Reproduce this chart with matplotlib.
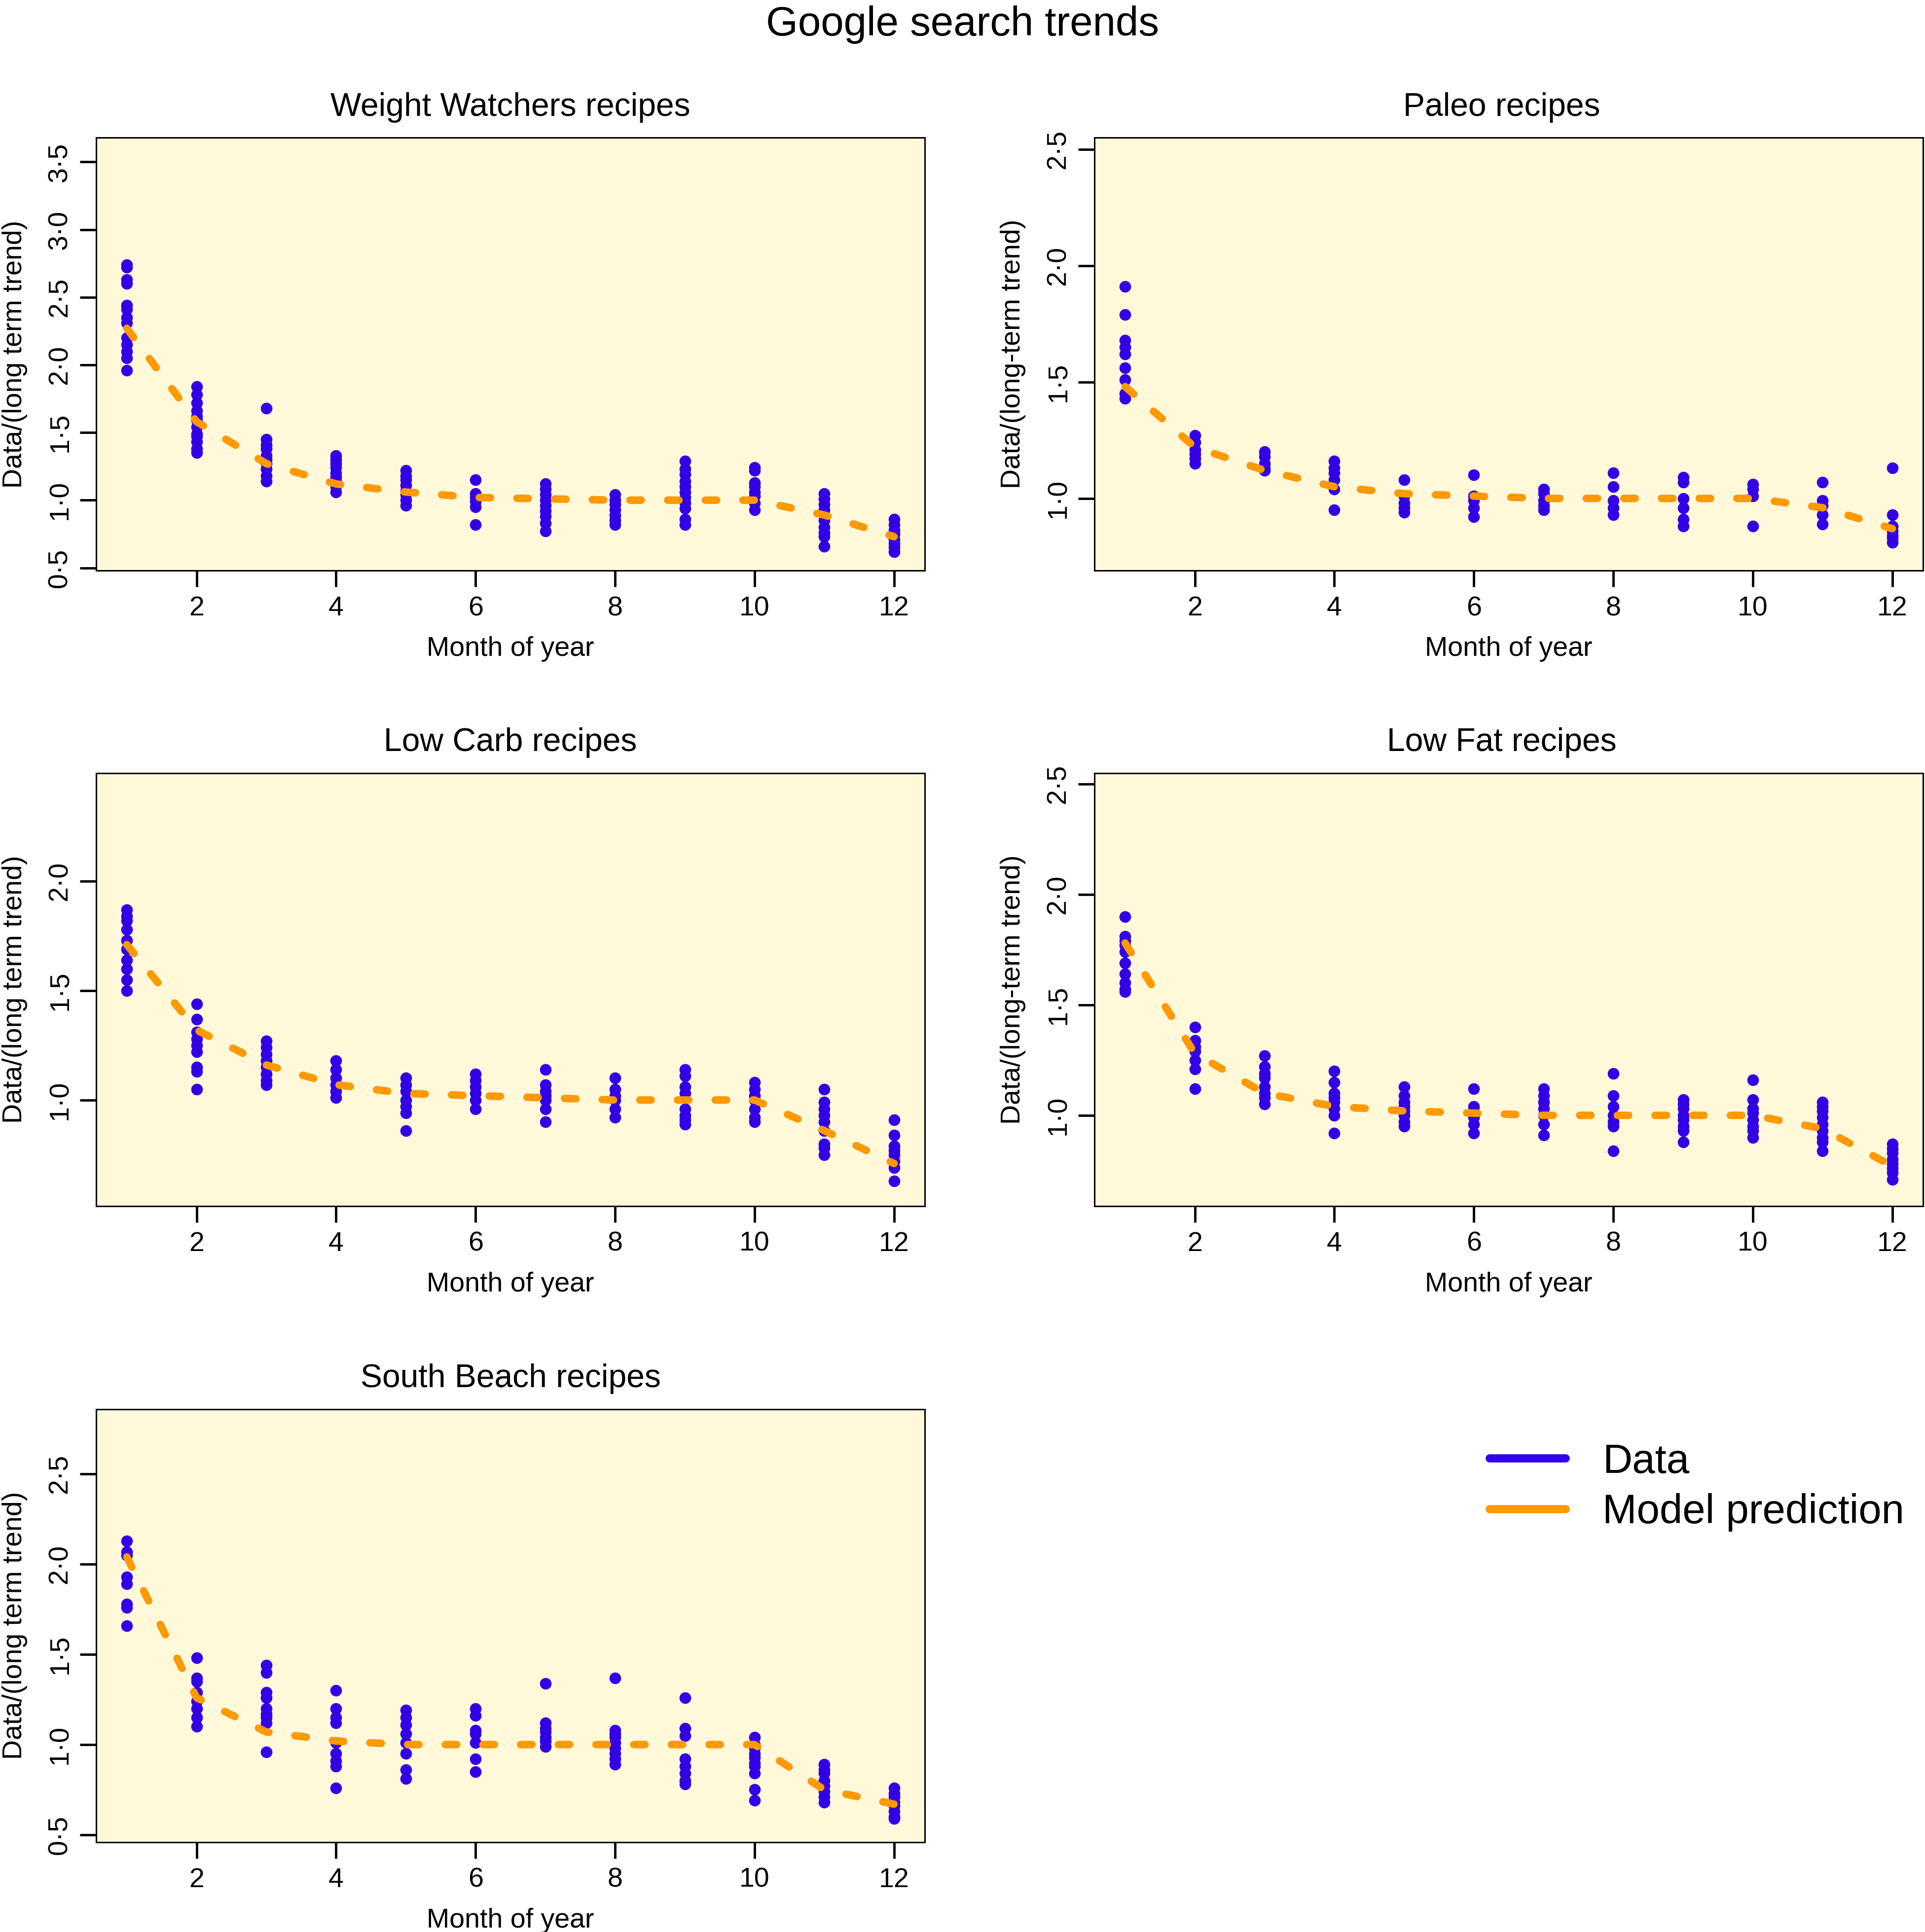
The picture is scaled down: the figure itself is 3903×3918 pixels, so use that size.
import matplotlib
matplotlib.use("Agg")
import matplotlib.pyplot as plt
from matplotlib.lines import Line2D
import numpy as np

plt.rcParams['font.family'] = ['Liberation Sans', 'DejaVu Sans']

months = list(range(1, 13))

# Weight Watchers: observed values per month (one list per month)
ww_data = [
    [2.74, 2.72, 2.63, 2.60, 2.44, 2.41, 2.35, 2.31, 2.20, 2.15, 2.10, 2.05, 1.96],
    [1.84, 1.78, 1.72, 1.66, 1.62, 1.59, 1.54, 1.49, 1.47, 1.43, 1.38, 1.35],
    [1.68, 1.45, 1.41, 1.38, 1.33, 1.30, 1.27, 1.23, 1.18, 1.14],
    [1.33, 1.30, 1.27, 1.24, 1.20, 1.17, 1.14, 1.10, 1.06],
    [1.22, 1.18, 1.15, 1.11, 1.07, 1.04, 1.00, 0.96],
    [1.15, 1.05, 1.02, 0.99, 0.95, 0.82],
    [1.12, 1.08, 1.04, 1.00, 0.96, 0.92, 0.88, 0.83, 0.77],
    [1.04, 1.00, 0.97, 0.93, 0.89, 0.85, 0.82],
    [1.29, 1.23, 1.19, 1.14, 1.10, 1.06, 1.02, 0.98, 0.94, 0.86, 0.82],
    [1.24, 1.22, 1.13, 1.10, 1.06, 1.03, 0.98, 0.93],
    [1.05, 1.01, 0.97, 0.93, 0.89, 0.85, 0.80, 0.76, 0.73, 0.66],
    [0.86, 0.82, 0.78, 0.75, 0.71, 0.68, 0.65, 0.62],
]
ww_model = [2.27, 1.58, 1.27, 1.12, 1.06, 1.02, 1.01, 1.00, 1.00, 1.00, 0.89, 0.73]

paleo_data = [
    [1.91, 1.79, 1.68, 1.65, 1.62, 1.56, 1.51, 1.45, 1.43],
    [1.27, 1.24, 1.21, 1.19, 1.17, 1.15],
    [1.20, 1.18, 1.15, 1.13, 1.12],
    [1.16, 1.13, 1.11, 1.08, 1.04, 0.95],
    [1.08, 1.01, 0.98, 0.96, 0.94],
    [1.10, 1.01, 0.99, 0.96, 0.92],
    [1.04, 1.02, 0.99, 0.97, 0.95],
    [1.11, 1.05, 0.99, 0.96, 0.93],
    [1.09, 1.07, 1.00, 0.96, 0.91, 0.88],
    [1.06, 1.04, 1.01, 0.88],
    [1.07, 0.99, 0.97, 0.93, 0.89],
    [1.13, 0.93, 0.88, 0.86, 0.84, 0.83, 0.81],
]
paleo_model = [1.48, 1.22, 1.12, 1.05, 1.02, 1.01, 1.00, 1.00, 1.00, 1.00, 0.96, 0.87]

lowcarb_data = [
    [1.87, 1.84, 1.82, 1.78, 1.73, 1.69, 1.64, 1.60, 1.55, 1.50],
    [1.44, 1.37, 1.31, 1.28, 1.25, 1.22, 1.15, 1.13, 1.05],
    [1.27, 1.24, 1.21, 1.18, 1.15, 1.12, 1.09, 1.07],
    [1.18, 1.14, 1.10, 1.07, 1.04, 1.01],
    [1.10, 1.07, 1.04, 1.00, 0.97, 0.94, 0.86],
    [1.12, 1.09, 1.06, 1.03, 1.00, 0.96],
    [1.14, 1.07, 1.04, 1.02, 1.00, 0.96, 0.90],
    [1.10, 1.05, 1.02, 1.00, 0.96, 0.92],
    [1.14, 1.11, 1.06, 1.03, 0.96, 0.93, 0.91, 0.89],
    [1.08, 1.05, 1.02, 1.00, 0.96, 0.92, 0.90],
    [1.05, 0.99, 0.96, 0.93, 0.90, 0.86, 0.80, 0.78, 0.75],
    [0.91, 0.84, 0.79, 0.77, 0.75, 0.72, 0.69, 0.63],
]
lowcarb_model = [1.71, 1.32, 1.16, 1.07, 1.03, 1.02, 1.01, 1.00, 1.00, 1.00, 0.86, 0.71]

lowfat_data = [
    [1.90, 1.81, 1.79, 1.77, 1.74, 1.69, 1.64, 1.60, 1.57, 1.56],
    [1.40, 1.34, 1.31, 1.29, 1.25, 1.21, 1.12],
    [1.27, 1.22, 1.19, 1.17, 1.13, 1.10, 1.08, 1.05],
    [1.20, 1.15, 1.10, 1.08, 1.06, 1.03, 1.00, 0.92],
    [1.13, 1.09, 1.06, 1.04, 1.02, 1.00, 0.97, 0.95],
    [1.12, 1.04, 1.02, 0.99, 0.96, 0.92],
    [1.12, 1.09, 1.06, 1.03, 1.00, 0.96, 0.91],
    [1.19, 1.09, 1.04, 1.00, 0.97, 0.95, 0.84],
    [1.07, 1.05, 1.03, 1.00, 0.98, 0.95, 0.93, 0.88],
    [1.16, 1.07, 1.03, 1.01, 0.98, 0.95, 0.93, 0.90],
    [1.06, 1.04, 1.02, 0.99, 0.96, 0.93, 0.90, 0.88, 0.84],
    [0.87, 0.85, 0.83, 0.80, 0.78, 0.76, 0.74, 0.71],
]
lowfat_model = [1.78, 1.28, 1.10, 1.04, 1.02, 1.01, 1.00, 1.00, 1.00, 1.00, 0.94, 0.77]

southbeach_data = [
    [2.13, 2.07, 2.05, 1.93, 1.89, 1.78, 1.76, 1.66],
    [1.48, 1.37, 1.35, 1.29, 1.24, 1.20, 1.15, 1.10],
    [1.44, 1.40, 1.29, 1.26, 1.20, 1.17, 1.15, 1.12, 0.96],
    [1.30, 1.20, 1.15, 1.12, 1.01, 0.95, 0.91, 0.88, 0.76],
    [1.19, 1.15, 1.11, 1.06, 1.01, 0.95, 0.86, 0.81],
    [1.20, 1.16, 1.08, 1.06, 1.01, 0.92, 0.85],
    [1.34, 1.12, 1.09, 1.07, 1.04, 1.02, 0.99],
    [1.37, 1.08, 1.06, 1.04, 1.01, 0.98, 0.95, 0.92, 0.89],
    [1.26, 1.09, 1.05, 0.92, 0.88, 0.84, 0.80, 0.78],
    [1.04, 1.00, 0.98, 0.95, 0.93, 0.90, 0.88, 0.84, 0.75, 0.69],
    [0.89, 0.86, 0.84, 0.80, 0.77, 0.74, 0.71, 0.68],
    [0.76, 0.73, 0.71, 0.68, 0.66, 0.63, 0.60, 0.59],
]
southbeach_model = [2.04, 1.26, 1.07, 1.02, 1.00, 1.00, 1.00, 1.00, 1.00, 1.00, 0.75, 0.67]

titles = ["Weight Watchers recipes", "Paleo recipes", "Low Carb recipes",
          "Low Fat recipes", "South Beach recipes"]
ylabels = ["Data/(long term trend)", "Data/(long-term trend)", "Data/(long term trend)",
           "Data/(long-term trend)", "Data/(long term trend)"]
ylims = [(0.48, 3.68), (0.69, 2.55), (0.516, 2.495), (0.59, 2.55), (0.46, 2.86)]
all_data = [ww_data, paleo_data, lowcarb_data, lowfat_data, southbeach_data]
all_model = [ww_model, paleo_model, lowcarb_model, lowfat_model, southbeach_model]

BLUE = '#3300E6'
ORANGE = '#FF9900'
BG = '#FFF9DA'

W, H = 3903, 3918
fig = plt.figure(figsize=(W / 100, H / 100), dpi=100)

col_left = [195 / W, 2219 / W]
ax_w = 1680 / W
row_bottom = [1 - 1157 / H, 1 - 2445.5 / H, 1 - 3735.5 / H]
ax_h = 878 / H

for i in range(5):
    r, c = divmod(i, 2)
    ax = fig.add_axes([col_left[c], row_bottom[r], ax_w, ax_h])
    ax.set_facecolor(BG)
    for m, vals in zip(months, all_data[i]):
        ax.plot([m] * len(vals), vals, 'o', color=BLUE, ms=17, mec='none', zorder=2)
    ax.plot(months, all_model[i], color=ORANGE, lw=11, dashes=(1.5, 3.5),
            dash_capstyle='round', solid_capstyle='round', zorder=3)
    ax.set_xlim(0.56, 12.44)
    ax.set_ylim(*ylims[i])
    ax.set_xticks([2, 4, 6, 8, 10, 12])
    lo, hi = ylims[i]
    yt = [v for v in np.arange(0.5, 4.01, 0.5) if lo <= v <= hi]
    ax.set_yticks(yt)
    ax.set_yticklabels([f"{v:.1f}".replace('.', '\u00b7') for v in yt],
                       rotation=90, va='center')
    ax.tick_params(direction='out', length=24, width=3.5, labelsize=40, color='black')
    ax.tick_params(axis='x', pad=13)
    ax.tick_params(axis='y', pad=10)
    for s in ax.spines.values():
        s.set_linewidth(2.2)
    ax.set_xlabel("Month of year", fontsize=40)
    ax.xaxis.set_label_coords(0.5, -0.152)
    ax.set_ylabel(ylabels[i], fontsize=40)
    ax.yaxis.set_label_coords(-0.083, 0.5)
    tx = 0.5 if c == 0 else 0.4917
    ax.set_title(titles[i], fontsize=47.5, x=tx, pad=32)

fig.text(0.5, 1 - 72 / H, "Google search trends", fontsize=60, ha='center', va='baseline')

handles = [Line2D([], [], color=BLUE, lw=12, solid_capstyle='round'),
           Line2D([], [], color=ORANGE, lw=12, solid_capstyle='round')]
fig.legend(handles, ["Data", "Model prediction"], loc='center left',
           bbox_to_anchor=(3020 / W, 1 - 3016 / H), frameon=False, fontsize=60,
           handlelength=1.85, handletextpad=0.9, labelspacing=0.3,
           borderpad=0, borderaxespad=0)

fig.savefig("out.png", dpi=100, facecolor='white')
